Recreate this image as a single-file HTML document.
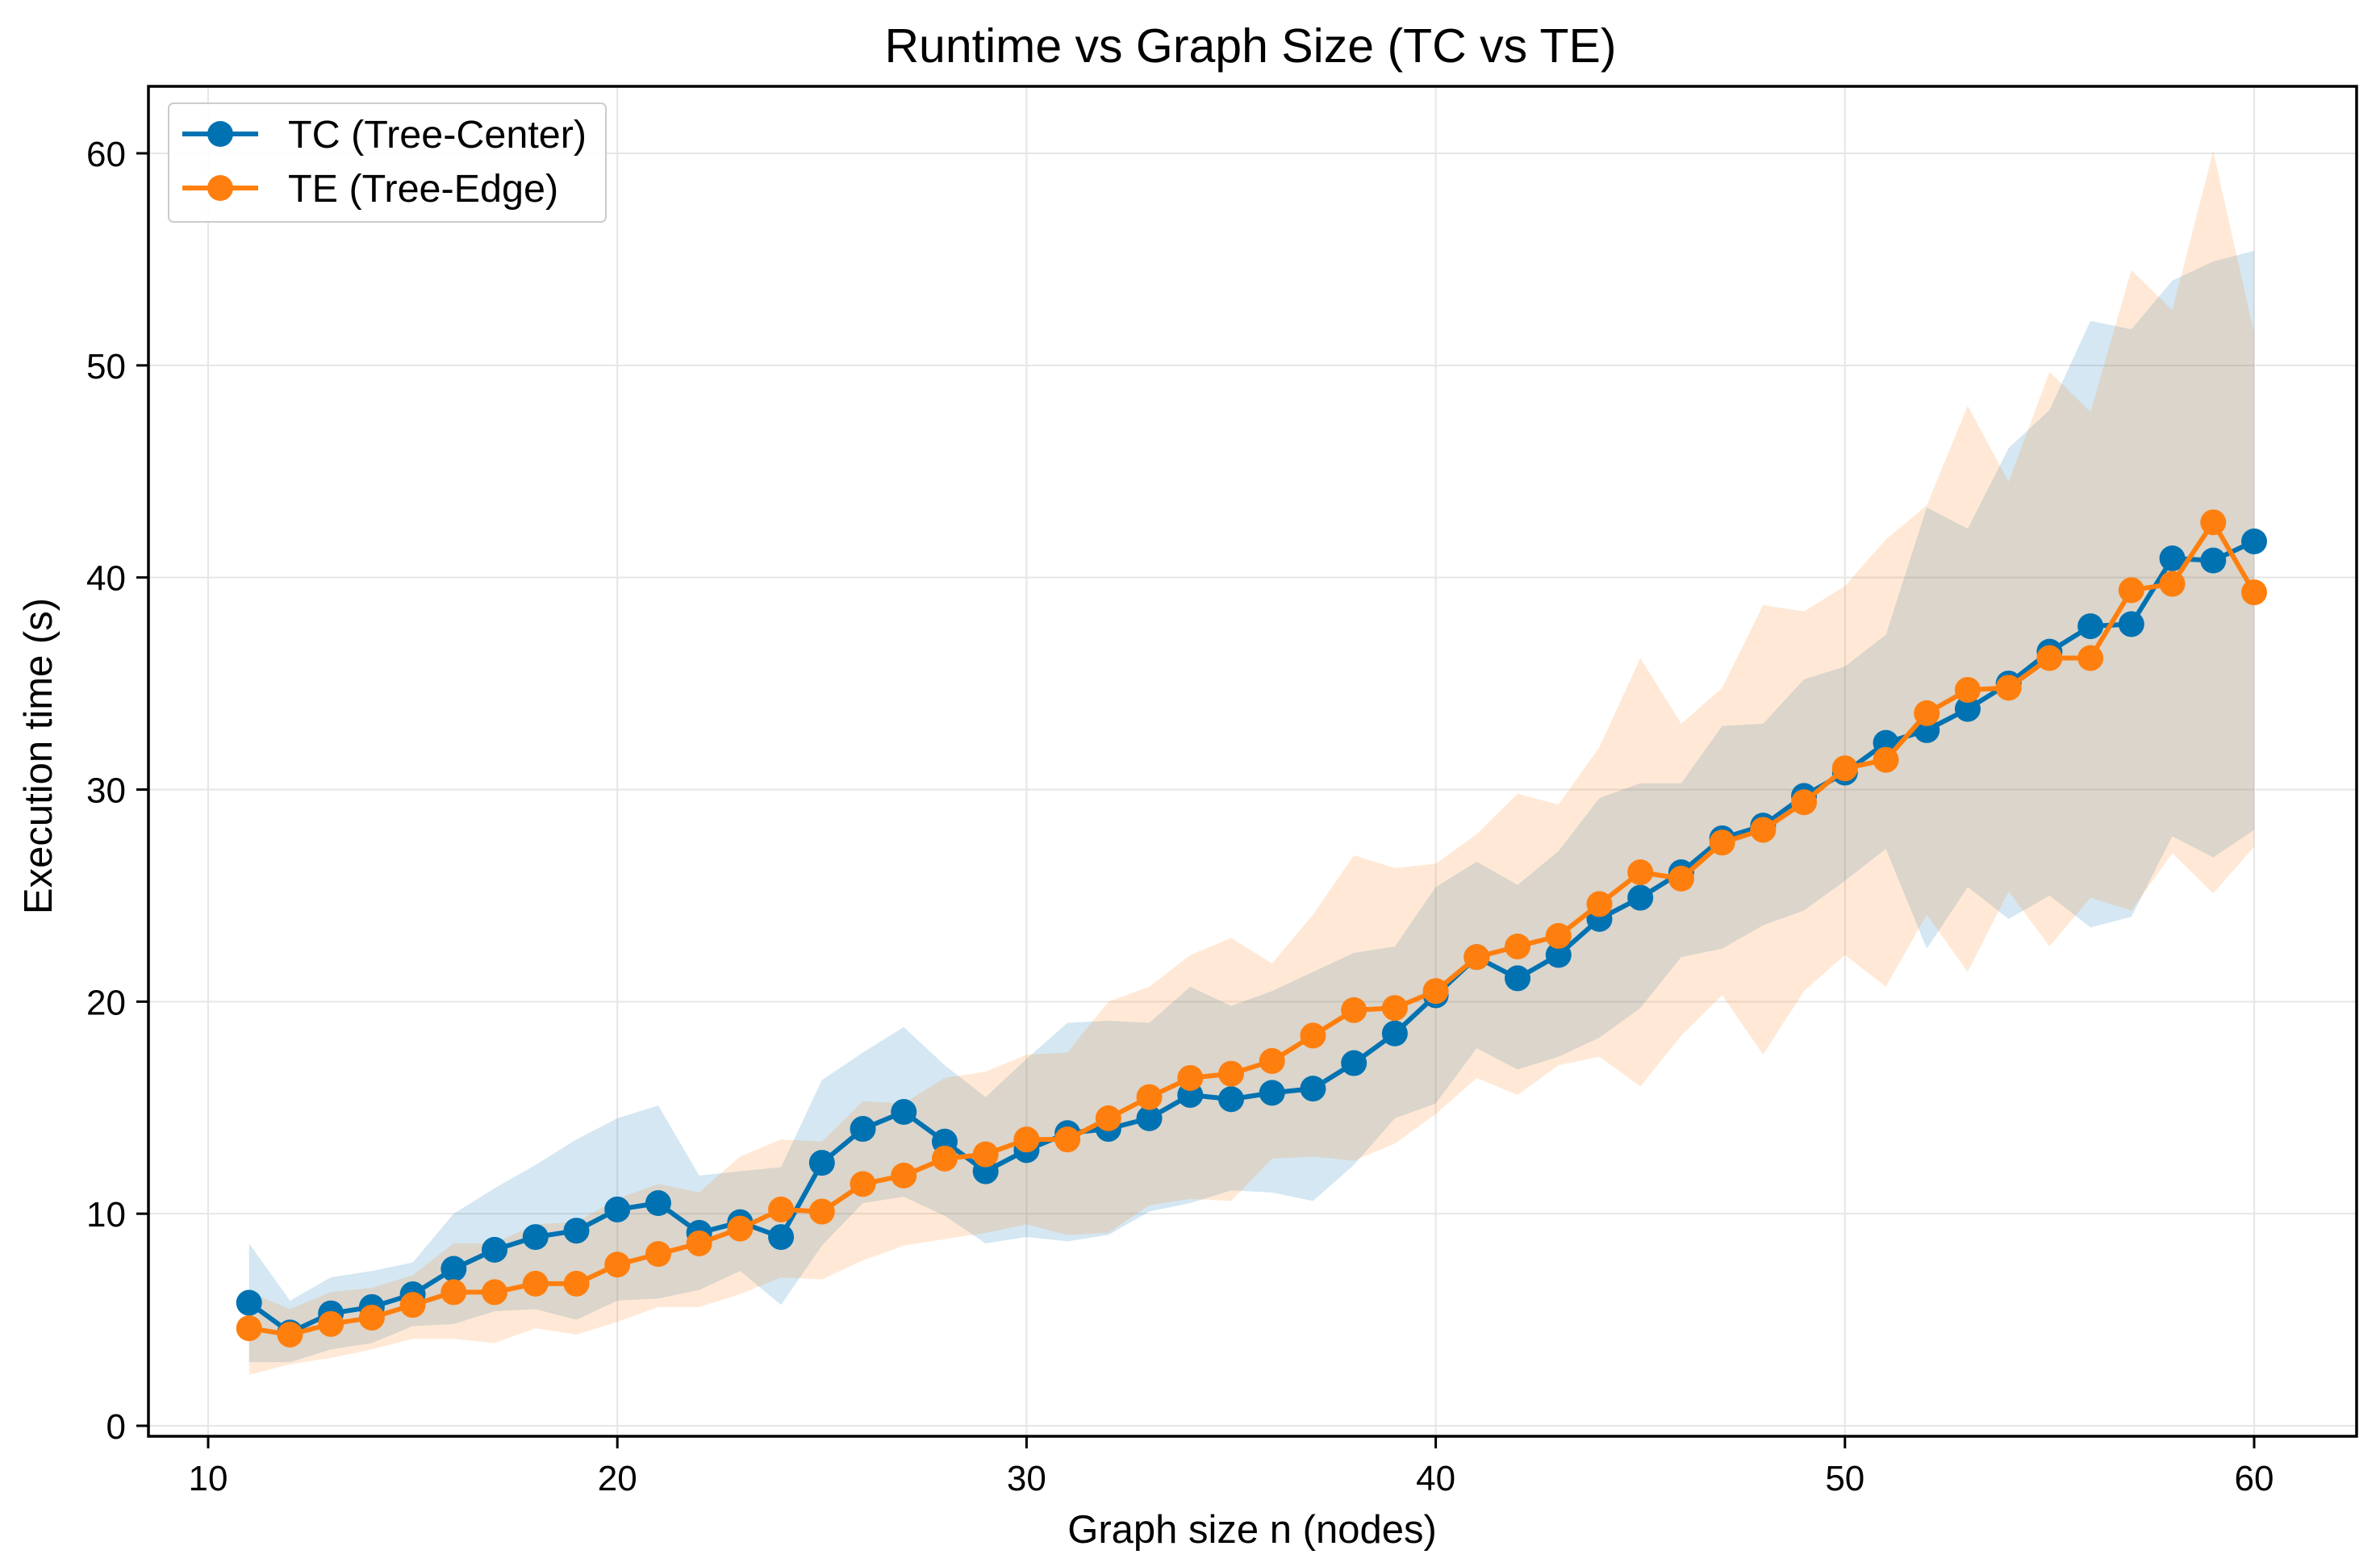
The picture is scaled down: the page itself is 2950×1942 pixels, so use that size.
<!DOCTYPE html>
<html><head><meta charset="utf-8"><style>
html,body{margin:0;padding:0;background:#fff;}
svg{display:block;font-family:"Liberation Sans","DejaVu Sans",sans-serif;}
</style></head><body>
<svg id="chart" width="2950" height="1942" viewBox="0 0 2950 1942" xmlns="http://www.w3.org/2000/svg">
<rect width="2950" height="1942" fill="#fff"/>
<g id="grid"></g>
<g id="bands"></g>
<g id="series"></g>
<rect x="184" y="107" width="2737" height="1673" fill="none" stroke="#000" stroke-width="3.5"/>
<g id="ticks"></g>
<text x="1550" y="77" font-size="59" text-anchor="middle" fill="#000">Runtime vs Graph Size (TC vs TE)</text>
<text x="1552" y="1912" font-size="49" text-anchor="middle" fill="#000">Graph size n (nodes)</text>
<text x="0" y="0" font-size="49" text-anchor="middle" fill="#000" transform="translate(64,937) rotate(-90)">Execution time (s)</text>
<g>
<rect x="209" y="128" width="542" height="147" rx="6" fill="#fff" fill-opacity="0.85" stroke="#ccc" stroke-width="2"/>
<g>
<line x1="226" y1="166" x2="320" y2="166" stroke="#0072b2" stroke-width="6"/>
<circle cx="273" cy="166" r="16" fill="#0072b2"/>
<text x="357" y="183" font-size="48.5" fill="#000">TC (Tree-Center)</text>
</g>
<g>
<line x1="226" y1="233" x2="320" y2="233" stroke="#ff7f0e" stroke-width="6"/>
<circle cx="273" cy="233" r="16" fill="#ff7f0e"/>
<text x="357" y="250" font-size="48.5" fill="#000">TE (Tree-Edge)</text>
</g>
</g>
</svg>
<script>
const nodes = [11,12,13,14,15,16,17,18,19,20,21,22,23,24,25,26,27,28,29,30,31,32,33,34,35,36,37,38,39,40,41,42,43,44,45,46,47,48,49,50,51,52,53,54,55,56,57,58,59,60];
const tcMean = [5.8,4.4,5.3,5.6,6.2,7.4,8.3,8.9,9.2,10.2,10.5,9.1,9.6,8.9,12.4,14.0,14.8,13.4,12.0,13.0,13.8,14.0,14.5,15.6,15.4,15.7,15.9,17.1,18.5,20.3,22.1,21.1,22.2,23.9,24.9,26.1,27.7,28.3,29.7,30.8,32.2,32.8,33.8,35.0,36.5,37.7,37.8,40.9,40.8,41.7];
const teMean = [4.6,4.3,4.8,5.1,5.7,6.3,6.3,6.7,6.7,7.6,8.1,8.6,9.3,10.2,10.1,11.4,11.8,12.6,12.8,13.5,13.5,14.5,15.5,16.4,16.6,17.2,18.4,19.6,19.7,20.5,22.1,22.6,23.1,24.6,26.1,25.8,27.5,28.1,29.4,31.0,31.4,33.6,34.7,34.8,36.2,36.2,39.4,39.7,42.6,39.3];
const tcUpper = [8.6,5.9,7.0,7.3,7.7,10.0,11.2,12.3,13.5,14.5,15.1,11.8,12.0,12.2,16.3,17.6,18.8,17.0,15.5,17.3,19.0,19.1,19.0,20.7,19.8,20.5,21.4,22.3,22.6,25.4,26.6,25.5,27.1,29.6,30.3,30.3,33.0,33.1,35.2,35.8,37.3,43.3,42.3,46.1,47.9,52.1,51.7,54.0,54.9,55.4];
const tcLower = [3.0,3.0,3.6,3.9,4.7,4.8,5.4,5.5,5.0,5.9,6.0,6.4,7.3,5.7,8.5,10.5,10.8,9.9,8.6,8.9,8.7,9.0,10.1,10.5,11.1,11.0,10.6,12.3,14.5,15.2,17.8,16.8,17.4,18.3,19.7,22.1,22.5,23.6,24.3,25.7,27.2,22.5,25.4,23.9,25.0,23.5,24.0,27.8,26.8,28.1];
const teUpper = [6.3,5.5,6.3,6.5,7.1,8.6,8.6,9.5,9.6,10.7,11.4,11.0,12.7,13.5,13.4,15.3,15.2,16.4,16.7,17.5,17.6,20.0,20.7,22.2,23.0,21.8,24.1,26.9,26.3,26.5,27.9,29.8,29.3,32.0,36.2,33.1,34.8,38.7,38.4,39.6,41.8,43.4,48.1,44.5,49.7,47.8,54.5,52.6,60.1,51.5];
const teLower = [2.4,2.9,3.2,3.6,4.1,4.1,3.9,4.6,4.3,4.9,5.6,5.6,6.2,7.0,6.9,7.8,8.5,8.8,9.1,9.5,9.0,9.1,10.4,10.7,10.6,12.6,12.7,12.5,13.3,14.7,16.4,15.6,17.0,17.4,16.0,18.4,20.3,17.5,20.5,22.2,20.7,24.1,21.4,25.2,22.6,24.9,24.3,27.0,25.1,27.3];
const xTicks = [10,20,30,40,50,60];
const yTicks = [0,10,20,30,40,50,60];

const NS = "http://www.w3.org/2000/svg";
function sx(v){ return 258 + (v - 10) * (2794 - 258) / 50; }
function sy(v){ return 1767 - v * (1767 - 190) / 60; }
function mk(tag, attrs, parent){
  const e = document.createElementNS(NS, tag);
  for (const k in attrs) e.setAttribute(k, attrs[k]);
  parent.appendChild(e);
  return e;
}
const grid = document.getElementById('grid');
const ticks = document.getElementById('ticks');
const bands = document.getElementById('bands');
const series = document.getElementById('series');

xTicks.forEach(t => {
  const g = mk('line', {x1:sx(t), x2:sx(t), y1:107, y2:1780, stroke:'#e6e6e6', 'stroke-width':2}, grid);
  
  
  const tk = mk('line', {x1:sx(t), x2:sx(t), y1:1780, y2:1795, stroke:'#000', 'stroke-width':3}, ticks);
  
  
  const lb = mk('text', {x:sx(t), y:1847, 'font-size':44, 'text-anchor':'middle', fill:'#000'}, ticks);
  lb.textContent = t;
  
  
});
yTicks.forEach(t => {
  const g = mk('line', {x1:184, x2:2921, y1:sy(t), y2:sy(t), stroke:'#e6e6e6', 'stroke-width':2}, grid);
  
  
  const tk = mk('line', {x1:169, x2:184, y1:sy(t), y2:sy(t), stroke:'#000', 'stroke-width':3}, ticks);
  
  
  const lb = mk('text', {x:156, y:sy(t)+16, 'font-size':44, 'text-anchor':'end', fill:'#000'}, ticks);
  lb.textContent = t;
  
  
});

function band(up, lo, color, name){
  let d = '';
  nodes.forEach((n,i) => { d += (i ? 'L' : 'M') + sx(n) + ',' + sy(up[i]); });
  for (let i = nodes.length - 1; i >= 0; i--) d += 'L' + sx(nodes[i]) + ',' + sy(lo[i]);
  const p = mk('path', {d:d + 'Z', fill:color, 'fill-opacity':0.17, stroke:'none'}, bands);
  
  
}
band(tcUpper, tcLower, '#0072b2', 'tc-band');
band(teUpper, teLower, '#ff7f0e', 'te-band');

function line(vals, color, name){
  const g = mk('g', {}, series);
  
  
  const pts = nodes.map((n,i) => sx(n) + ',' + sy(vals[i])).join(' ');
  const pl = mk('polyline', {points:pts, fill:'none', stroke:color, 'stroke-width':6, 'stroke-linejoin':'round'}, g);
  
  
  nodes.forEach((n,i) => {
    const c = mk('circle', {cx:sx(n), cy:sy(vals[i]), r:16, fill:color}, g);
    
    
  });
}
line(tcMean, '#0072b2', 'tc-series');
line(teMean, '#ff7f0e', 'te-series');
</script>
</body></html>
